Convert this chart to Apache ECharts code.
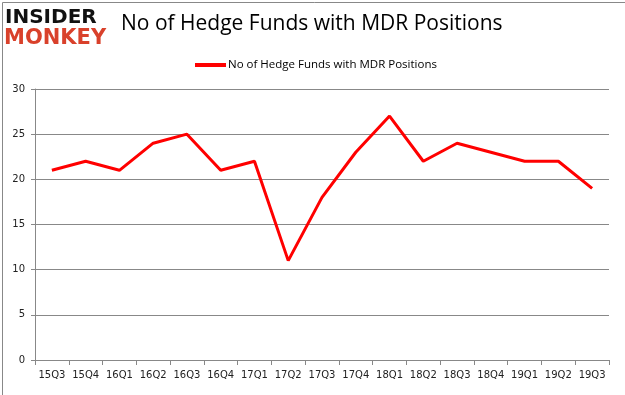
<!DOCTYPE html>
<html>
<head>
<meta charset="utf-8">
<script src="https://cdn.jsdelivr.net/npm/echarts@6/dist/echarts.min.js"></script>
<style>
html,body{margin:0;padding:0;background:#fff;}
#c{width:625px;height:395px;}
</style>
</head>
<body>
<div id="c"></div>
<script>
const categories = ['15Q3','15Q4','16Q1','16Q2','16Q3','16Q4','17Q1','17Q2','17Q3','17Q4','18Q1','18Q2','18Q3','18Q4','19Q1','19Q2','19Q3'];
const values = [21,22,21,24,25,21,22,11,18,23,27,22,24,23,22,22,19];
const seriesName = 'No of Hedge Funds with MDR Positions';
const titleText = 'No of Hedge Funds with MDR Positions';

const chart = echarts.init(document.getElementById('c'));
chart.setOption({
  animation: false,
  backgroundColor: '#fff',
  title: {
    text: titleText,
    left: 116, top: 9,
    textStyle: {fontFamily: 'Open Sans', fontSize: 21, fontWeight: 500, color: '#000'}
  },
  legend: {
    data: [seriesName],
    top: 54, left: 190,
    itemWidth: 31, itemHeight: 4,
    icon: 'rect',
    textStyle: {fontFamily: 'Open Sans', fontSize: 11.5, color: '#000', padding: [0, 0, 0, -3]},
    itemGap: 2
  },
  grid: {left: 35, right: 16, top: 89, bottom: 35},
  xAxis: {
    type: 'category',
    data: categories,
    boundaryGap: true,
    axisLine: {lineStyle: {color: '#888'}},
    axisTick: {show: true, alignWithLabel: false, lineStyle: {color: '#888'}},
    axisLabel: {color: '#222', fontFamily: 'DejaVu Sans', fontSize: 10, margin: 10, interval: 0}
  },
  yAxis: {
    type: 'value',
    min: 0, max: 30, interval: 5,
    axisLine: {show: true, lineStyle: {color: '#888'}},
    axisTick: {show: true, length: 4, lineStyle: {color: '#888'}},
    splitLine: {lineStyle: {color: '#888'}},
    axisLabel: {color: '#222', fontFamily: 'DejaVu Sans', fontSize: 10, margin: 10}
  },
  series: [{
    name: seriesName,
    type: 'line',
    data: values,
    symbol: 'none',
    lineStyle: {color: '#ff0000', width: 3},
    itemStyle: {color: '#ff0000'}
  }],
  graphic: [
    {type: 'rect', left: 0, top: 0, z: 100, silent: true,
     shape: {x: 0.5, y: 0.5, width: 624, height: 394},
     style: {fill: 'none', stroke: '#888', lineWidth: 1}},
    {type: 'text', left: 5, top: 8,
     style: {text: 'INSIDER', fontFamily: 'DejaVu Sans', fontWeight: 'bold', fontSize: 20, fill: '#111'}},
    {type: 'text', left: 4, top: 28,
     style: {text: 'MONKEY', fontFamily: 'DejaVu Sans', fontWeight: 'bold', fontSize: 21, fill: '#d9412b'}}
  ]
});
</script>
</body>
</html>
